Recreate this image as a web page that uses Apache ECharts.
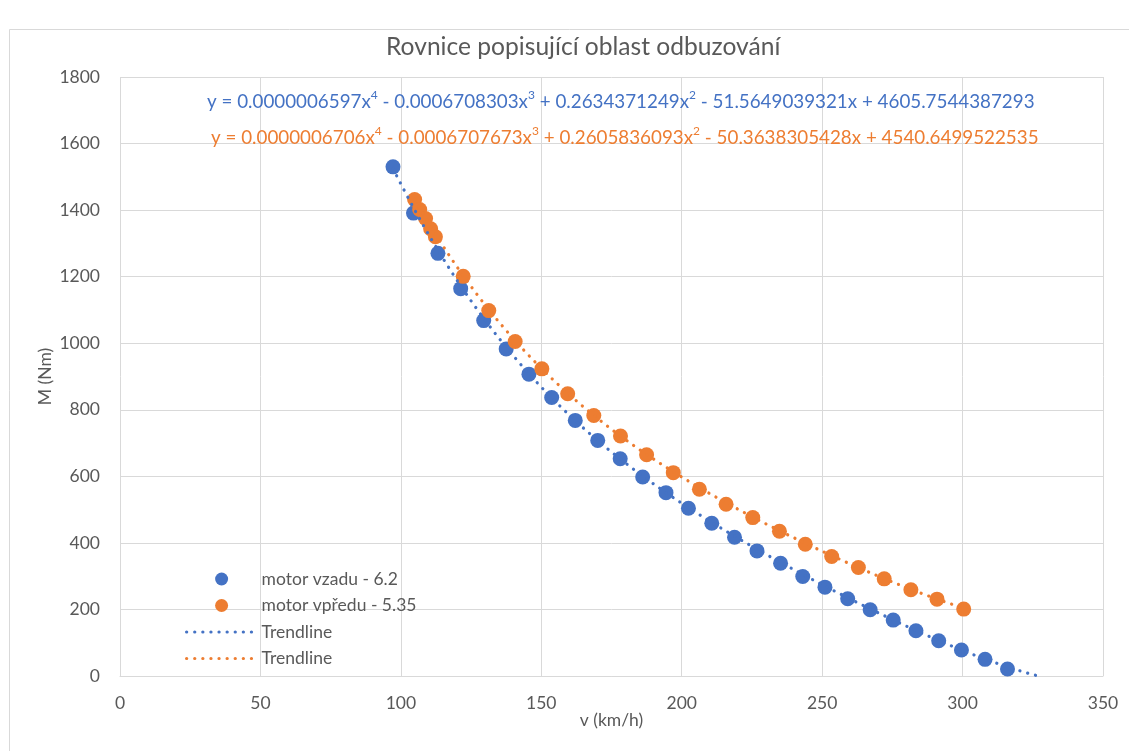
<!DOCTYPE html>
<html>
<head>
<meta charset="utf-8">
<script src="https://cdn.jsdelivr.net/npm/echarts@6/dist/echarts.min.js"></script>
<style>
  html, body { margin: 0; padding: 0; background: #fff; }
  #chart { width: 1129px; height: 751px; }
</style>
</head>
<body>
<div id="chart"></div>
<script>
// Measured operating points: speed v (km/h) and torque M (Nm)
const rearX = [97.2, 104.5, 113.2, 121.3, 129.5, 137.5, 145.6, 153.7, 162.1, 170.1, 178.1, 186.1, 194.4, 202.4, 210.7, 218.8, 226.8, 235.2, 243.1, 251.0, 259.1, 267.1, 275.3, 283.4, 291.5, 299.6, 308.0, 316.0];
const rearY = [1530, 1391, 1270, 1164, 1068, 983, 907, 837, 768, 708, 653, 598, 551, 504, 459, 417, 376, 339, 299, 267, 232, 199, 168, 136, 106, 78, 50, 21];

const frontX = [104.9, 106.7, 108.8, 110.6, 112.3, 122.2, 131.3, 140.7, 150.2, 159.4, 168.7, 178.2, 187.5, 197.0, 206.3, 215.8, 225.3, 234.8, 244.0, 253.4, 262.9, 272.1, 281.6, 290.9, 300.4];
const frontY = [1432, 1402, 1375, 1344, 1320, 1201, 1098, 1005, 923, 848, 783, 721, 665, 611, 561, 516, 476, 435, 396, 359, 326, 292, 259, 231, 201];

// 4th-order polynomial trendline coefficients, highest power first
const rearCoef = [0.0000006597, -0.0006708303, 0.2634371249, -51.5649039321, 4605.7544387293];
const frontCoef = [0.0000006706, -0.0006707673, 0.2605836093, -50.3638305428, 4540.6499522535];
// x-span covered by each trendline (rear one is extended forward by 10 km/h)
const rearSpan = [97.2, 326];
const frontSpan = [104.9, 300.4];

const seriesNames = ['motor vzadu - 6.2', 'motor vpředu - 5.35', 'Trendline', 'Trendline '];
const xTicks = { min: 0, max: 350, interval: 50 };
const yTicks = { min: 0, max: 1800, interval: 200 };

const BLUE = '#4472C4';
const ORANGE = '#ED7D31';
const TEXT = '#595959';
const GRID = '#D9D9D9';
const FONT = 'Lato';
const FS = 17.5;
const DOTS = { width: 3.2, type: [0.1, 8], cap: 'round' };

function zip(xs, ys) { return xs.map((x, i) => [x, ys[i]]); }

function poly(c, x) {
  return c.reduce((acc, k) => acc * x + k, 0);
}

function trend(c, span) {
  const pts = [];
  for (let x = span[0]; x < span[1]; x += 1) pts.push([x, poly(c, x)]);
  pts.push([span[1], poly(c, span[1])]);
  return pts;
}

// Equation text built from the coefficients, with superscript powers
function equationRich(c) {
  const pw = ['4', '3', '2', '', ''];
  let s = '{t|y = }';
  c.forEach((k, i) => {
    const v = Math.abs(k).toFixed(10);
    if (i > 0) s += k < 0 ? '{t| - }' : '{t| + }';
    s += '{t|' + v + (i < 4 ? 'x' : '') + '}';
    if (pw[i]) s += '{s|' + pw[i] + '}';
  });
  return s;
}

function eqText(c, color, left, top) {
  return {
    type: 'text',
    left: left,
    top: top,
    z: 10,
    style: {
      text: equationRich(c),
      rich: {
        t: { fontFamily: FONT, fontSize: 18.8, fill: color, lineHeight: 22, verticalAlign: 'bottom' },
        s: { fontFamily: FONT, fontSize: 12, fill: color, lineHeight: 22, verticalAlign: 'top' }
      }
    }
  };
}

const chart = echarts.init(document.getElementById('chart'));

chart.setOption({
  animation: false,
  backgroundColor: '#fff',
  textStyle: { fontFamily: FONT },
  title: {
    text: 'Rovnice popisující oblast odbuzování',
    left: 386,
    top: 35,
    padding: 0,
    textStyle: { color: TEXT, fontSize: 24.6, fontWeight: 'normal', fontFamily: FONT }
  },
  grid: { left: 120, right: 26, top: 77, bottom: 75 },
  legend: {
    orient: 'vertical',
    left: 180,
    top: 565,
    itemWidth: 70,
    itemHeight: 13,
    itemGap: 8.5,
    data: seriesNames,
    formatter: n => n.trim(),
    lineStyle: DOTS,
    textStyle: { color: TEXT, fontSize: FS, fontFamily: FONT }
  },
  xAxis: {
    type: 'value',
    min: xTicks.min, max: xTicks.max, interval: xTicks.interval,
    name: 'v (km/h)',
    nameLocation: 'middle',
    nameGap: 35,
    nameMoveOverlap: false,
    nameTextStyle: { color: TEXT, fontSize: FS, fontFamily: FONT },
    axisLine: { show: true, lineStyle: { color: GRID, width: 1 } },
    axisTick: { show: false },
    axisLabel: { color: TEXT, fontSize: FS, margin: 18, fontFamily: FONT },
    splitLine: { show: true, lineStyle: { color: GRID, width: 1 } }
  },
  yAxis: {
    type: 'value',
    min: yTicks.min, max: yTicks.max, interval: yTicks.interval,
    name: 'M (Nm)',
    nameLocation: 'middle',
    nameGap: 66,
    nameMoveOverlap: false,
    nameTextStyle: { color: TEXT, fontSize: FS, fontFamily: FONT },
    axisLine: { show: false },
    axisTick: { show: false },
    axisLabel: { color: TEXT, fontSize: FS, margin: 20, fontFamily: FONT, formatter: v => String(v) },
    splitLine: { show: true, lineStyle: { color: GRID, width: 1 } }
  },
  graphic: [
    {
      type: 'rect',
      shape: { x: 9.5, y: 29.5, width: 1200, height: 800 },
      style: { fill: 'none', stroke: GRID, lineWidth: 1 },
      z: -10, silent: true
    },
    eqText(rearCoef, BLUE, 207, 89),
    eqText(frontCoef, ORANGE, 211, 125)
  ],
  series: [
    {
      name: seriesNames[0],
      type: 'scatter',
      data: zip(rearX, rearY),
      symbol: 'circle',
      symbolSize: 15,
      itemStyle: { color: BLUE, opacity: 1 },
      z: 2
    },
    {
      name: seriesNames[1],
      type: 'scatter',
      data: zip(frontX, frontY),
      symbol: 'circle',
      symbolSize: 15,
      itemStyle: { color: ORANGE, opacity: 1 },
      z: 3
    },
    {
      name: seriesNames[2],
      type: 'line',
      data: trend(rearCoef, rearSpan),
      showSymbol: false,
      symbol: 'none',
      itemStyle: { color: BLUE, opacity: 0 },
      lineStyle: Object.assign({ color: BLUE, opacity: 1 }, DOTS),
      z: 4
    },
    {
      name: seriesNames[3],
      type: 'line',
      data: trend(frontCoef, frontSpan),
      showSymbol: false,
      symbol: 'none',
      itemStyle: { color: ORANGE, opacity: 0 },
      lineStyle: Object.assign({ color: ORANGE, opacity: 1 }, DOTS),
      z: 4
    }
  ]
});
</script>
</body>
</html>
